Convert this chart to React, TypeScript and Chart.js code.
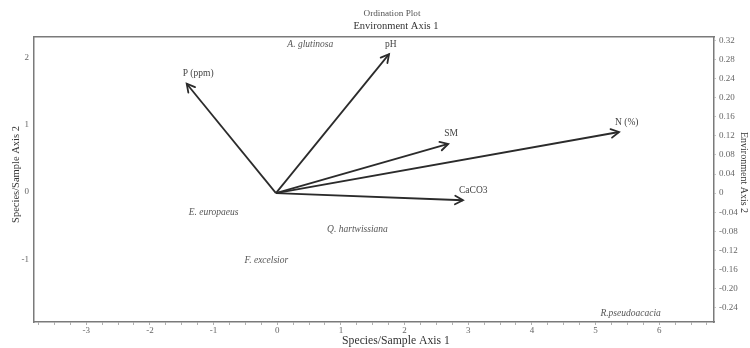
import React, { useEffect, useRef } from 'react';
import { Chart, registerables } from 'chart.js';

Chart.register(...registerables);

// ---- data ----
const chartTitle = 'Ordination Plot';
const topAxisTitle = 'Environment Axis 1';
const bottomAxisTitle = 'Species/Sample Axis 1';
const leftAxisTitle = 'Species/Sample Axis 2';
const rightAxisTitle = 'Environment Axis 2';

const vectorNames = ['P (ppm)', 'pH', 'SM', 'N (%)', 'CaCO3'];
const vectorX = [-0.187, 0.237, 0.361, 0.719, 0.392];
const vectorY = [0.229, 0.291, 0.103, 0.128, -0.015];

const speciesNames = ['A. glutinosa', 'E. europaeus', 'Q. hartwissiana', 'F. excelsior', 'R.pseudoacacia'];
const speciesX = [0.52, -1.0, 1.26, -0.17, 5.55];
const speciesY = [2.19, -0.3, -0.56, -1.02, -1.81];

const axis1Range = [-3.82, 6.86];
const axis2Range = [-1.93, 2.3];
const env1Range = [-0.507, 0.918];
const env2Range = [-0.27, 0.327];

const SERIF = '"Liberation Serif", "Times New Roman", serif';
const FRAME = '#7a7a7a';

const overlayPlugin = {
  id: 'ordinationOverlay',
  afterDatasetsDraw(chart: any) {
    const ctx = chart.ctx;
    ctx.save();
    // arrowheads + vector labels
    vectorNames.forEach((name, i) => {
      const meta = chart.getDatasetMeta(i);
      const p0 = meta.data[0];
      const p1 = meta.data[1];
      if (!p0 || !p1) return;
      const ang = Math.atan2(p1.y - p0.y, p1.x - p0.x);
      const len = 9;
      const spread = 0.5;
      ctx.strokeStyle = '#2b2b2b';
      ctx.lineWidth = 1.8;
      ctx.lineCap = 'round';
      ctx.lineJoin = 'miter';
      ctx.beginPath();
      ctx.moveTo(p1.x - len * Math.cos(ang - spread), p1.y - len * Math.sin(ang - spread));
      ctx.lineTo(p1.x, p1.y);
      ctx.lineTo(p1.x - len * Math.cos(ang + spread), p1.y - len * Math.sin(ang + spread));
      ctx.stroke();
      ctx.fillStyle = '#444';
      ctx.font = `9.5px ${SERIF}`;
      ctx.textAlign = 'left';
      ctx.textBaseline = 'middle';
      ctx.fillText(name, p1.x - 4, p1.y - 10);
    });
    // species labels
    const sMeta = chart.getDatasetMeta(vectorNames.length);
    ctx.fillStyle = '#555';
    ctx.font = `italic 9.5px ${SERIF}`;
    ctx.textAlign = 'center';
    ctx.textBaseline = 'middle';
    speciesNames.forEach((name, i) => {
      const pt = sMeta.data[i];
      if (!pt) return;
      ctx.fillText(name, pt.x, pt.y);
    });
    ctx.restore();
  },
  afterDraw(chart: any) {
    const ctx = chart.ctx;
    const area = chart.chartArea;
    const cx = (area.left + area.right) / 2 + 22;
    const cy = (area.top + area.bottom) / 2 - 5;
    ctx.save();
    ctx.textAlign = 'center';
    ctx.textBaseline = 'middle';
    ctx.fillStyle = '#555';
    ctx.font = `9.2px ${SERIF}`;
    ctx.fillText(chartTitle, cx - 4, 14);
    ctx.fillStyle = '#333';
    ctx.font = `10.5px ${SERIF}`;
    ctx.fillText(topAxisTitle, cx, 26);
    ctx.font = `11.7px ${SERIF}`;
    ctx.fillText(bottomAxisTitle, cx, 341);
    ctx.save();
    ctx.translate(16, cy);
    ctx.rotate(-Math.PI / 2);
    ctx.font = `10.5px ${SERIF}`;
    ctx.fillText(leftAxisTitle, 0, 0);
    ctx.restore();
    ctx.save();
    ctx.translate(744, cy - 2);
    ctx.rotate(Math.PI / 2);
    ctx.font = `10px ${SERIF}`;
    ctx.fillText(rightAxisTitle, 0, 0);
    ctx.restore();
    ctx.restore();
  },
};

const isMultiple = (v: number, step: number) => Math.abs(v / step - Math.round(v / step)) < 1e-6;

export default function App() {
  const ref = useRef<HTMLCanvasElement | null>(null);
  useEffect(() => {
    document.body.style.margin = '0';
    if (!ref.current) return;
    const datasets: any[] = vectorNames.map((name, i) => ({
      label: name,
      type: 'line',
      data: [
        { x: 0, y: 0 },
        { x: vectorX[i], y: vectorY[i] },
      ],
      xAxisID: 'x2',
      yAxisID: 'y2',
      borderColor: '#2b2b2b',
      borderWidth: 1.8,
      pointRadius: 0,
      fill: false,
      tension: 0,
    }));
    datasets.push({
      label: 'Species',
      type: 'scatter',
      data: speciesX.map((x, i) => ({ x, y: speciesY[i] })),
      xAxisID: 'x',
      yAxisID: 'y',
      pointRadius: 0,
      showLine: false,
    });
    const tickFont = { family: SERIF, size: 9 };
    const chart = new Chart(ref.current, {
      type: 'scatter',
      data: { datasets },
      plugins: [overlayPlugin],
      options: {
        responsive: false,
        animation: false,
        layout: { padding: 0 },
        plugins: { legend: { display: false }, tooltip: { enabled: false }, title: { display: false } },
        scales: {
          x: {
            type: 'linear',
            position: 'bottom',
            min: axis1Range[0],
            max: axis1Range[1],
            afterFit: (s: any) => { s.height = 26; },
            border: { display: true, color: FRAME, width: 1.5 },
            grid: { drawOnChartArea: false, drawTicks: true, tickLength: 3, color: '#b0b0b0' },
            ticks: {
              stepSize: 0.25,
              autoSkip: false,
              maxRotation: 0,
              includeBounds: false,
              padding: 0,
              color: '#666',
              font: tickFont,
              callback: (v: any) => (isMultiple(Number(v), 1) ? String(Math.round(Number(v))) : ''),
            },
          },
          y: {
            type: 'linear',
            position: 'left',
            min: axis2Range[0],
            max: axis2Range[1],
            afterFit: (s: any) => { s.width = 34; },
            border: { display: true, color: FRAME, width: 1.5 },
            grid: { drawOnChartArea: false, drawTicks: false },
            ticks: {
              stepSize: 1,
              includeBounds: false,
              padding: 5,
              color: '#666',
              font: tickFont,
              callback: (v: any) => String(Math.round(Number(v))),
            },
          },
          x2: {
            type: 'linear',
            position: 'top',
            min: env1Range[0],
            max: env1Range[1],
            afterFit: (s: any) => { s.height = 37; },
            border: { display: true, color: FRAME, width: 1.5 },
            grid: { drawOnChartArea: false, drawTicks: false },
            ticks: { display: false },
          },
          y2: {
            type: 'linear',
            position: 'right',
            min: env2Range[0],
            max: env2Range[1],
            afterFit: (s: any) => { s.width = 36; },
            border: { display: true, color: FRAME, width: 1.5 },
            grid: { drawOnChartArea: false, drawTicks: true, tickLength: 2, color: '#c8c8c8' },
            ticks: {
              stepSize: 0.04,
              autoSkip: false,
              includeBounds: false,
              padding: 3,
              color: '#666',
              font: tickFont,
              callback: (v: any) => {
                const n = Number(v);
                if (Math.abs(n) < 1e-9) return '0';
                return n.toFixed(2);
              },
            },
          },
        },
      } as any,
    });
    return () => chart.destroy();
  }, []);
  return (
    <div style={{ width: 750, height: 348, background: '#fff' }}>
      <canvas ref={ref} width={750} height={348} style={{ display: 'block' }} />
    </div>
  );
}
